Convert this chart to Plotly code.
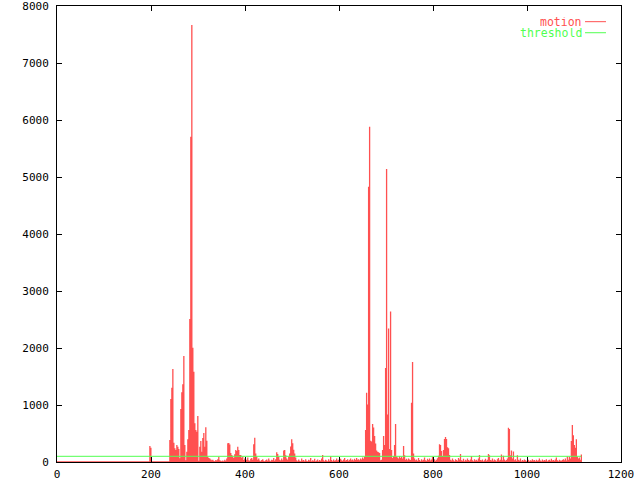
import plotly.graph_objects as go

# ---- data (one sample per ~2.125 frames) ----
FRAME_STEP = 2.125
THRESHOLD = 100

x_ticks = [0, 200, 400, 600, 800, 1000, 1200]
y_ticks = [0, 1000, 2000, 3000, 4000, 5000, 6000, 7000, 8000]

motion_a = [0, 0, 0, 0, 0, 0, 0, 0, 0, 0, 0, 0, 0, 0, 0, 0, 0, 0, 0, 0,
            0, 0, 0, 0, 0, 0, 0, 0, 0, 0, 0, 0, 0, 0, 0, 0, 0, 0, 0, 0,
            0, 0, 0, 0, 0, 0, 0, 0, 0, 0, 0, 0, 0, 0, 0, 0, 0, 0, 0, 0,
            0, 0, 0, 0, 0, 0, 0, 0, 0, 0, 0, 0, 0, 0, 0, 0, 0, 0, 0, 0,
            0, 0, 0, 0, 0, 0, 0, 0, 0, 0, 0, 0, 0,
            280, 250,
            0, 0, 0, 0, 0, 0, 0, 0, 0, 0, 0, 0, 0, 0, 0, 0, 0, 0]
motion_b = [385, 1105, 1304, 1632, 339, 240, 210, 298, 269, 228, 64, 930, 1222,
            1363, 1860, 300, 30, 181, 398, 561, 2509, 5707, 7667, 2005, 1584,
            678, 561, 532, 807, 20, 269, 368, 181, 421, 509, 269, 608, 374, 94]
motion_c = [70, 60, 45, 30, 40, 20, 15, 35, 25, 50, 94, 30, 20, 10, 25, 15, 40, 20, 60,
            330, 335, 305, 160, 123, 92, 70, 134, 210, 193, 269, 210, 123, 123, 76, 94,
            35, 60, 25, 40, 80, 30, 20, 55, 70, 40,
            310, 425, 150, 90,
            40, 60, 25, 15, 35, 50, 20, 10, 30, 45, 20, 60, 25, 15, 40, 30, 70, 20, 50,
            170, 140, 90, 40, 25, 60, 30, 200, 210, 120, 60, 40, 90,
            150, 270, 400, 330, 215, 150, 80]
motion_d = [30, 15, 45, 20, 10, 60, 25, 35, 15, 50, 20, 10, 40, 25, 70, 15, 30, 20, 55, 10,
            25, 45, 15, 35, 20, 60, 123, 30, 15, 40, 25, 10, 50, 20, 95, 35, 15, 45, 20, 30,
            60, 25, 40, 15, 55, 30, 20, 45, 70, 25, 35, 50, 20, 40, 60, 30, 45, 25, 55, 35,
            70, 40, 50, 30, 60, 45, 80, 55, 90]
motion_e = [561, 1216, 1010, 4830, 5880, 375, 360, 665, 605, 455, 325, 200, 180, 170,
            160, 30, 40, 210, 455, 300, 1650, 5140, 835, 2340, 230, 2640, 210, 70, 100,
            300, 665, 95, 80, 60, 100, 70, 90, 60, 280, 120, 40, 55, 30, 60, 45, 35,
            1040, 1755, 150]
motion_f = [60, 30, 45, 20, 70, 35, 15, 50, 25, 40, 80, 30, 20, 55, 35, 60, 25, 45, 90,
            30, 50, 20, 40, 65, 110,
            310, 300, 195, 105, 210, 405, 440, 405, 260, 240, 125,
            40, 25, 60, 30, 15, 50, 35, 20, 70, 45, 140, 30, 20, 55, 15, 40, 25, 60, 35, 20,
            45, 100, 30, 15, 50, 25, 40, 20, 60, 123, 35, 25, 45, 15, 30, 55, 20, 40, 140,
            120, 35, 25, 60, 20, 45, 30, 15, 50, 70, 25, 40, 130, 30, 110, 45, 20, 35, 60,
            600, 580, 120, 200, 60, 185]
motion_g = [30, 50, 20, 120, 40, 25, 60, 15, 35, 20, 45, 30, 10, 25, 40, 15, 30, 20, 50,
            25, 35, 15, 40, 20, 30, 60, 25, 15, 45, 20, 35, 25, 50, 15, 30, 40, 20, 55, 25,
            35, 20, 45, 80, 30, 15, 40, 25, 20, 35, 50, 30, 60, 25, 95, 40, 90, 60,
            370, 650, 470, 300, 250, 400, 90, 60, 80, 40, 130]

motion = motion_a + motion_b + motion_c + motion_d + motion_e + motion_f + motion_g
frames = [i * FRAME_STEP for i in range(len(motion))]

RED = "#ff5050"
GREEN = "#50ff50"
FONT = "DejaVu Sans Mono"

# impulses: one connected path, vertical spikes joined along y=0
xs, ys = [], []
for f, v in zip(frames, motion):
    xs += [f, f, f]
    ys += [0, v, 0]

fig = go.Figure()
fig.add_trace(go.Scatter(x=xs, y=ys, mode="lines", name="motion",
                         line=dict(color=RED, width=1.3), hoverinfo="skip"))
fig.add_trace(go.Scatter(x=[frames[0], frames[-1]], y=[THRESHOLD, THRESHOLD],
                         mode="lines", name="threshold",
                         line=dict(color=GREEN, width=1)))

axis_common = dict(ticks="inside", ticklen=5, tickcolor="black", showline=True,
                   linecolor="black", linewidth=1, mirror="ticks", showgrid=False,
                   zeroline=False, automargin=False, ticklabeloverflow="allow",
                   tickfont=dict(family=FONT, size=11, color="black"))
fig.update_xaxes(range=[0, 1200], tickvals=x_ticks,
                 ticktext=[str(t) for t in x_ticks], ticklabelstandoff=2, **axis_common)
fig.update_yaxes(range=[0, 8000], tickvals=y_ticks,
                 ticktext=[str(t) for t in y_ticks], ticklabelstandoff=5, **axis_common)

# gnuplot-style key (top right)
key = [("motion", RED, 0.9656), ("threshold", GREEN, 0.9414)]
for label, color, yp in key:
    fig.add_annotation(xref="paper", yref="paper", x=0.9286, y=yp, text=label,
                       showarrow=False, xanchor="right", yanchor="middle",
                       xshift=2, height=10, borderpad=0,
                       font=dict(family=FONT, size=11.5, color=color))
    fig.add_shape(type="line", xref="paper", yref="paper", x0=0.9362, x1=0.9734,
                  y0=yp, y1=yp, line=dict(color=color, width=1))

fig.update_layout(width=640, height=480, showlegend=False,
                  paper_bgcolor="white", plot_bgcolor="white",
                  margin=dict(l=57, r=19, t=6, b=18, autoexpand=False))

fig.write_html("out.html", config={"displayModeBar": False},
               post_script="document.body.style.margin='0';document.body.style.overflow='hidden';")
